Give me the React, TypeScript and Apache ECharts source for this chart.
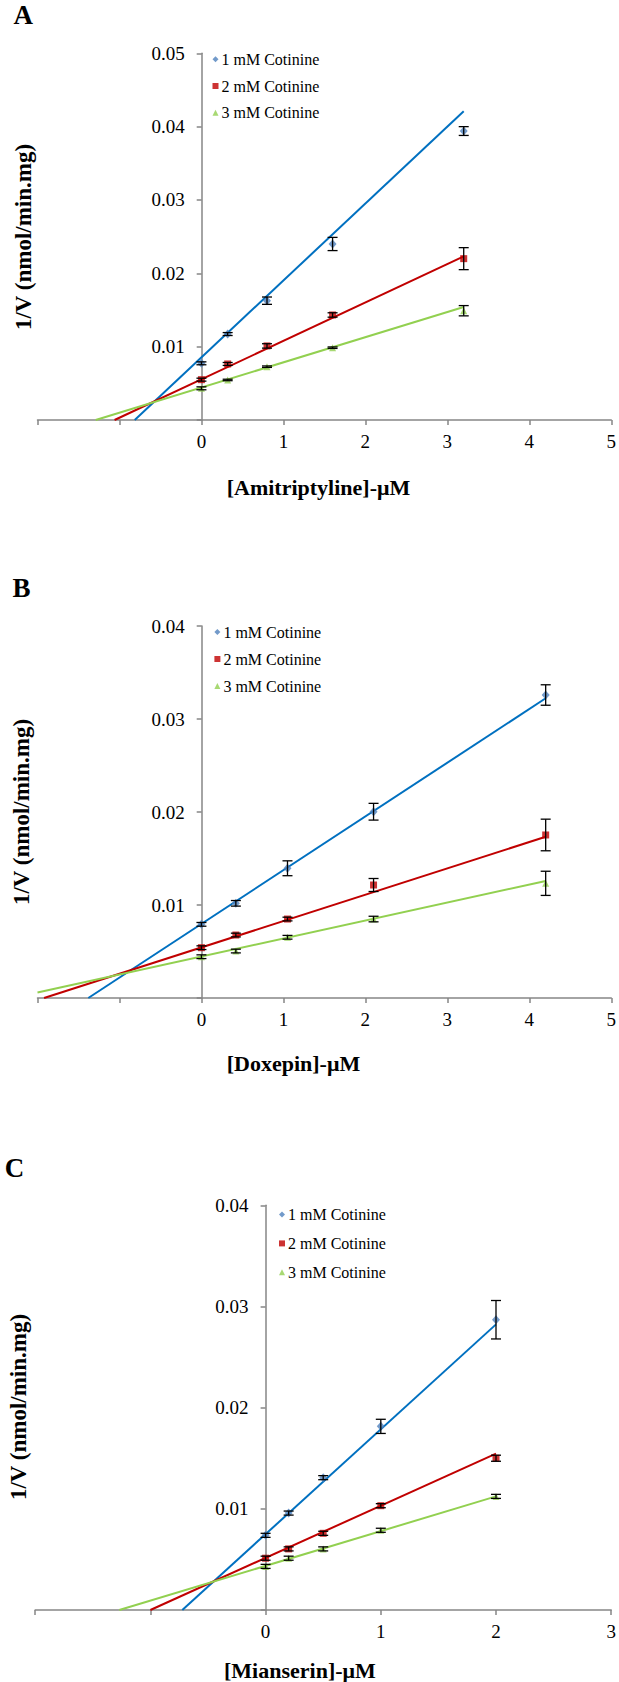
import React, { useEffect, useRef } from "react";
import * as echarts from "echarts";

const SERIES_NAMES = ["1 mM Cotinine", "2 mM Cotinine", "3 mM Cotinine"];
const LINE_COLORS = ["#0070C0", "#C00000", "#92D050"];
const MARKER_COLORS = ["#4F81BD", "#C00000", "#92D050"];
const SYMBOLS = ["diamond", "rect", "triangle"];
const SYMBOL_SIZES: any[] = [[8, 9], 7, 7];

// Panel A – Amitriptyline
const xA = [0, 0.32, 0.8, 1.6, 3.2];
const yA1 = [0.00773, 0.01172, 0.01627, 0.024, 0.0394];
const yA2 = [0.0055, 0.00764, 0.0101, 0.01432, 0.022];
const yA3 = [0.00432, 0.00546, 0.00727, 0.00986, 0.0149];
const eA1 = [0.0002, 0.0002, 0.0005, 0.0009, 0.0006];
const eA2 = [0.0002, 0.0002, 0.0003, 0.0003, 0.0015];
const eA3 = [0.0002, 0.0001, 0.0001, 0.0001, 0.0007];
const fitA1 = [[-0.814, 0], [3.2, 0.0421]];
const fitA2 = [[-1.06, 0], [3.2, 0.0223]];
const fitA3 = [[-1.29, 0], [3.2, 0.0154]];

// Panel B – Doxepin
const xB = [0, 0.42, 1.05, 2.1, 4.2];
const yB1 = [0.00792, 0.01018, 0.01395, 0.02003, 0.03258];
const yB2 = [0.00541, 0.00677, 0.00849, 0.01215, 0.01753];
const yB3 = [0.00444, 0.00505, 0.00653, 0.00849, 0.01233];
const eB1 = [0.0002, 0.0003, 0.0008, 0.0009, 0.0011];
const eB2 = [0.0002, 0.0002, 0.0002, 0.0007, 0.0017];
const eB3 = [0.0002, 0.0002, 0.0002, 0.0003, 0.0013];
const fitB1 = [[-1.38, 0], [4.2, 0.03223]];
const fitB2 = [[-1.92, 0], [4.2, 0.01734]];
const fitB3 = [[-2, 0.0006], [4.2, 0.01258]];

// Panel C – Mianserin
const xC = [0, 0.2, 0.5, 1, 2];
const yC1 = [0.00738, 0.00958, 0.01308, 0.01815, 0.02869];
const yC2 = [0.00512, 0.00604, 0.00758, 0.01031, 0.015];
const yC3 = [0.00431, 0.00512, 0.00604, 0.00788, 0.01123];
const eC1 = [0.0002, 0.0002, 0.0002, 0.0007, 0.0019];
const eC2 = [0.0002, 0.0002, 0.0002, 0.0002, 0.0003];
const eC3 = [0.0002, 0.0002, 0.0002, 0.0002, 0.0002];
const fitC1 = [[-0.723, 0], [2, 0.02823]];
const fitC2 = [[-1.0, 0], [2, 0.01546]];
const fitC3 = [[-1.27, 0], [2, 0.01123]];

const X_TITLES = ["[Amitriptyline]-μM", "[Doxepin]-μM", "[Mianserin]-μM"];
const LETTERS = ["A", "B", "C"];
const Y_TITLE = "1/V (nmol/min.mg)";
const X_MIN = -2;
const X_MAX = [5, 5, 3];
const Y_MAX = [0.05, 0.04, 0.04];

const FONT = "Liberation Serif";

const DATA = [
  { xs: xA, ys: [yA1, yA2, yA3], errs: [eA1, eA2, eA3], fits: [fitA1, fitA2, fitA3] },
  { xs: xB, ys: [yB1, yB2, yB3], errs: [eB1, eB2, eB3], fits: [fitB1, fitB2, fitB3] },
  { xs: xC, ys: [yC1, yC2, yC3], errs: [eC1, eC2, eC3], fits: [fitC1, fitC2, fitC3] },
];

const LAYOUT = [
  { grid: { left: 37.5, top: 53.3, width: 574.7, height: 366.7 }, legend: { left: 212.5, top: 51.3, gap: 10.7 }, letter: [23.3, 15], yTitle: [23.6, 237], xTitle: [226.7, 487.3] },
  { grid: { left: 37.5, top: 626, width: 574.7, height: 372 }, legend: { left: 214.4, top: 624, gap: 11 }, letter: [21.6, 588], yTitle: [21.6, 812], xTitle: [226.7, 1063.3] },
  { grid: { left: 35.2, top: 1205.3, width: 576, height: 404.7 }, legend: { left: 279, top: 1206.6, gap: 12.8 }, letter: [14.5, 1167.5], yTitle: [18, 1407], xTitle: [224, 1670] },
];

function buildOption() {
  const grid: any[] = [];
  const xAxis: any[] = [];
  const yAxis: any[] = [];
  const series: any[] = [];
  const legend: any[] = [];
  const elements: any[] = [];
  const axisLineStyle = { color: "#868686", width: 1.5 };

  DATA.forEach((d, p) => {
    const L = LAYOUT[p];
    grid.push({ ...L.grid });
    const yOffset = -((0 - X_MIN) / (X_MAX[p] - X_MIN)) * L.grid.width;
    xAxis.push({
      type: "value",
      gridIndex: p,
      min: X_MIN,
      max: X_MAX[p],
      interval: 1,
      axisLine: { show: true, onZero: true, lineStyle: axisLineStyle },
      axisTick: { show: true, length: 5, lineStyle: axisLineStyle },
      splitLine: { show: false },
      axisLabel: {
        formatter: (v: number) => (v < 0 ? "" : String(v)),
        fontFamily: FONT,
        fontSize: 19,
        color: "#000",
        margin: 12,
      },
    });
    yAxis.push({
      type: "value",
      gridIndex: p,
      min: 0,
      max: Y_MAX[p],
      interval: 0.01,
      offset: yOffset,
      axisLine: { show: true, onZero: false, lineStyle: axisLineStyle },
      axisTick: { show: true, length: 5, lineStyle: axisLineStyle },
      splitLine: { show: false },
      axisLabel: {
        formatter: (v: number) => (v === 0 ? "" : v.toFixed(2)),
        fontFamily: FONT,
        fontSize: 19,
        color: "#000",
        margin: 17,
      },
    });

    for (let s = 0; s < 3; s++) {
      series.push({
        type: "line",
        name: "fit-" + LETTERS[p] + s,
        xAxisIndex: p,
        yAxisIndex: p,
        data: d.fits[s],
        showSymbol: false,
        symbol: "none",
        silent: true,
        lineStyle: { color: LINE_COLORS[s], width: 2 },
        z: 2,
      });
      series.push({
        type: "scatter",
        name: SERIES_NAMES[s],
        xAxisIndex: p,
        yAxisIndex: p,
        data: d.xs.map((x, i) => [x, d.ys[s][i]]),
        symbol: SYMBOLS[s],
        symbolSize: SYMBOL_SIZES[s],
        itemStyle: { color: MARKER_COLORS[s] },
        z: 3,
      });
      series.push({
        type: "custom",
        name: "err-" + LETTERS[p] + s,
        xAxisIndex: p,
        yAxisIndex: p,
        silent: true,
        z: 4,
        data: d.xs.map((x, i) => [x, d.ys[s][i] - d.errs[s][i], d.ys[s][i] + d.errs[s][i]]),
        encode: { x: 0, y: [1, 2] },
        renderItem: (params: any, api: any) => {
          const x = api.value(0);
          const top = api.coord([x, api.value(2)]);
          const bot = api.coord([x, api.value(1)]);
          const w = 5;
          const st = { stroke: "#000", lineWidth: 1.3 };
          return {
            type: "group",
            children: [
              { type: "line", shape: { x1: top[0], y1: top[1], x2: bot[0], y2: bot[1] }, style: st },
              { type: "line", shape: { x1: top[0] - w, y1: top[1], x2: top[0] + w, y2: top[1] }, style: st },
              { type: "line", shape: { x1: bot[0] - w, y1: bot[1], x2: bot[0] + w, y2: bot[1] }, style: st },
            ],
          };
        },
      });
    }

    legend.push({
      orient: "vertical",
      left: L.legend.left,
      top: L.legend.top,
      itemGap: L.legend.gap,
      itemWidth: 6,
      itemHeight: 6,
      padding: 0,
      selectedMode: false,
      data: SERIES_NAMES,
      textStyle: { fontFamily: FONT, fontSize: 16, color: "#000", padding: [0, 0, 0, -2] },
    });

    elements.push({
      type: "text",
      x: L.letter[0],
      y: L.letter[1],
      style: { text: LETTERS[p], fontFamily: FONT, fontWeight: "bold", fontSize: 27, fill: "#000", textAlign: "center", textVerticalAlign: "middle" },
    });
    elements.push({
      type: "text",
      x: L.yTitle[0],
      y: L.yTitle[1],
      rotation: Math.PI / 2,
      style: { text: Y_TITLE, fontFamily: FONT, fontWeight: "bold", fontSize: 23, fill: "#000", textAlign: "center", textVerticalAlign: "middle" },
    });
    elements.push({
      type: "text",
      x: L.xTitle[0],
      y: L.xTitle[1],
      style: { text: X_TITLES[p], fontFamily: FONT, fontWeight: "bold", fontSize: 22, fill: "#000", textAlign: "left", textVerticalAlign: "middle" },
    });
  });

  return {
    animation: false,
    backgroundColor: "#fff",
    grid,
    xAxis,
    yAxis,
    series,
    legend,
    graphic: { elements },
  };
}

export default function App() {
  const ref = useRef<HTMLDivElement>(null);
  useEffect(() => {
    if (!ref.current) return;
    const chart = echarts.init(ref.current, null, { renderer: "svg" });
    chart.setOption(buildOption() as any);
    return () => chart.dispose();
  }, []);
  return <div ref={ref} style={{ position: "absolute", left: 0, top: 0, width: 619, height: 1682 }} />;
}
